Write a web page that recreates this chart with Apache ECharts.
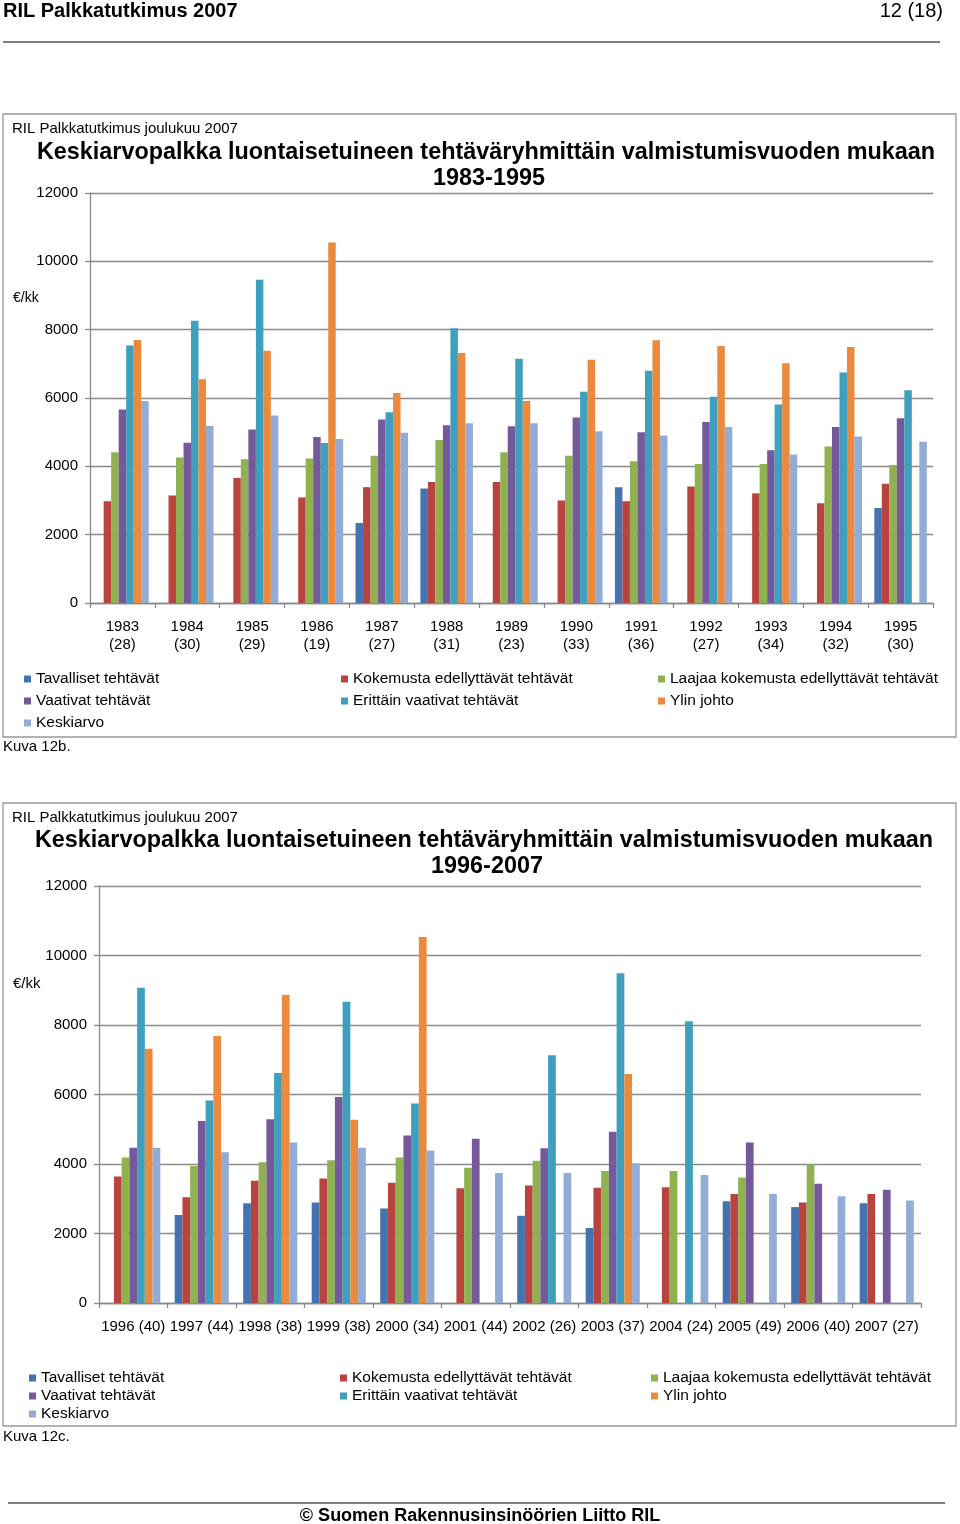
<!DOCTYPE html>
<html><head><meta charset="utf-8">
<script src="https://cdn.jsdelivr.net/npm/echarts@6/dist/echarts.min.js"></script>
<style>html,body{margin:0;padding:0;background:#fff}#c{width:960px;height:1524px}</style>
</head><body><div id="c"></div>
<script>
const seriesNames = ['Tavalliset tehtävät','Kokemusta edellyttävät tehtävät','Laajaa kokemusta edellyttävät tehtävät','Vaativat tehtävät','Erittäin vaativat tehtävät','Ylin johto','Keskiarvo'];
const colors = ['#4473B0','#B9443F','#8FB14F','#75599A','#3E9FBE','#EB8A3D','#93ACD6'];
const yTicks = [0,2000,4000,6000,8000,10000,12000];

// Kuva 12b: 1983-1995
const years1 = ['1983','1984','1985','1986','1987','1988','1989','1990','1991','1992','1993','1994','1995'];
const counts1 = [28,30,29,19,27,31,23,33,36,27,34,32,30];
const tavalliset1 = [null,null,null,null,2340,3350,null,null,3390,null,null,null,2780];
const kokemusta1  = [2980,3150,3660,3090,3390,3540,3540,3000,2980,3410,3210,2920,3490];
const laajaa1     = [4410,4260,4210,4230,4310,4770,4410,4310,4150,4070,4070,4580,4040];
const vaativat1   = [5660,4690,5080,4860,5370,5200,5170,5430,5000,5300,4470,5150,5410];
const erittain1   = [7540,8260,9460,4680,5580,8040,7150,6180,6800,6040,5810,6750,6230];
const ylin1       = [7700,6550,7380,10550,6150,7320,5910,7120,7690,7520,7020,7490,null];
const keskiarvo1  = [5910,5180,5490,4800,4980,5260,5260,5030,4900,5150,4350,4870,4720];

// Kuva 12c: 1996-2007
const years2 = ['1996','1997','1998','1999','2000','2001','2002','2003','2004','2005','2006','2007'];
const counts2 = [40,44,38,38,34,44,26,37,24,49,40,27];
const tavalliset2 = [null,2530,2870,2890,2720,null,2510,2160,null,2930,2760,2870];
const kokemusta2  = [3640,3040,3520,3580,3460,3300,3380,3320,3330,3140,2890,3140];
const laajaa2     = [4190,3940,4050,4110,4190,3890,4090,3800,3800,3610,3990,null];
const vaativat2   = [4470,5240,5290,5930,4820,4730,4450,4930,null,4620,3430,3260];
const erittain2   = [9070,5830,6620,8670,5740,null,7130,9490,8110,null,null,null];
const ylin2       = [7320,7680,8870,5270,10530,null,null,6590,null,null,null,null];
const keskiarvo2  = [4470,4340,4620,4470,4390,3740,3740,4020,3680,3140,3070,2950];

const data1 = [tavalliset1,kokemusta1,laajaa1,vaativat1,erittain1,ylin1,keskiarvo1];
const data2 = [tavalliset2,kokemusta2,laajaa2,vaativat2,erittain2,ylin2,keskiarvo2];
const cats1 = years1.map((y,i)=>y+'\n('+counts1[i]+')');
const cats2 = years2.map((y,i)=>y+' ('+counts2[i]+')');

const FF = '"Liberation Sans", Arial, Helvetica, sans-serif';
const GRID = '#8a8a8a';

function yAxis(gi){
  return {type:'value', gridIndex:gi, min:yTicks[0], max:yTicks[yTicks.length-1], interval:2000,
    axisLine:{show:true, lineStyle:{color:GRID, width:1.3}},
    axisTick:{show:true, length:5, lineStyle:{color:GRID, width:1.3}},
    splitLine:{show:true, lineStyle:{color:GRID, width:1.3}},
    axisLabel:{color:'#000', fontSize:15, fontFamily:FF, margin:12, formatter:(v)=>String(v)}};
}
function xAxis(gi, cats, margin){
  return {type:'category', gridIndex:gi, data:cats,
    axisLine:{show:true, lineStyle:{color:GRID, width:1.3}},
    axisTick:{show:true, length:5, interval:0, lineStyle:{color:GRID, width:1.3}},
    axisLabel:{color:'#000', fontSize:15, fontFamily:FF, interval:0, lineHeight:18, margin:margin}};
}
const series = [];
[data1,data2].forEach((dd,gi)=>{
  dd.forEach((arr,si)=>{
    series.push({type:'bar', name:seriesNames[si], xAxisIndex:gi, yAxisIndex:gi, data:arr,
      itemStyle:{color:colors[si]}, barGap:'0%', barCategoryGap: gi===0?'19%':'21%',
      animation:false});
  });
});
function legend(names, left, top, gap){
  return {data:names, orient:'vertical', left:left, top:top, itemWidth:7, itemHeight:7, itemGap:gap,
    icon:'rect', selectedMode:false,
    textStyle:{color:'#000', fontSize:15.5, fontFamily:FF, lineHeight:15}};
}
const N = seriesNames;
function txt(t,x,y,size,opts){
  return {type:'text', silent:true, style:Object.assign({text:t, x:x, y:y, fill:'#000', fontSize:size,
    fontFamily:FF, textAlign:'left', textVerticalAlign:'middle', verticalAlign:'middle'}, opts||{})};
}
const graphic = [
  txt('RIL Palkkatutkimus 2007', 3, 11, 20, {fontWeight:'bold'}),
  txt('12 (18)', 943, 11, 20, {textAlign:'right'}),
  {type:'line', silent:true, shape:{x1:3,y1:42,x2:940,y2:42}, style:{stroke:'#555', lineWidth:1.5}},
  {type:'rect', silent:true, shape:{x:3,y:114,width:953,height:623}, style:{fill:'none', stroke:'#999', lineWidth:1.3}},
  txt('RIL Palkkatutkimus joulukuu 2007', 12, 129, 15),
  txt('Keskiarvopalkka luontaisetuineen tehtäväryhmittäin valmistumisvuoden mukaan', 486, 153, 23.4, {fontWeight:'bold', textAlign:'center'}),
  txt('1983-1995', 489, 179, 23.4, {fontWeight:'bold', textAlign:'center'}),
  txt('€/kk', 13, 298, 14),
  txt('Kuva 12b.', 3, 747, 15),
  {type:'rect', silent:true, shape:{x:3,y:803,width:953,height:623}, style:{fill:'none', stroke:'#999', lineWidth:1.3}},
  txt('RIL Palkkatutkimus joulukuu 2007', 12, 818, 15),
  txt('Keskiarvopalkka luontaisetuineen tehtäväryhmittäin valmistumisvuoden mukaan', 484, 841, 23.4, {fontWeight:'bold', textAlign:'center'}),
  txt('1996-2007', 487, 867, 23.4, {fontWeight:'bold', textAlign:'center'}),
  txt('€/kk', 13, 984, 15),
  txt('Kuva 12c.', 3, 1437, 15),
  {type:'line', silent:true, shape:{x1:8,y1:1503,x2:945,y2:1503}, style:{stroke:'#555', lineWidth:1.5}},
  txt('© Suomen Rakennusinsinöörien Liitto RIL', 480, 1516, 18, {fontWeight:'bold', textAlign:'center'})
];

const chart = echarts.init(document.getElementById('c'), null, {renderer:'canvas'});
chart.setOption({
  animation:false,
  backgroundColor:'#fff',
  color:colors,
  grid:[{left:90, top:193, width:843, height:410},{left:99, top:886, width:822, height:417}],
  xAxis:[xAxis(0,cats1,15), xAxis(1,cats2,15)],
  yAxis:[yAxis(0), yAxis(1)],
  legend:[
    legend([N[0],N[3],N[6]], 19, 666, 6),
    legend([N[1],N[4]], 336, 666, 6),
    legend([N[2],N[5]], 653, 666, 6),
    legend([N[0],N[3],N[6]], 24, 1365, 2),
    legend([N[1],N[4]], 335, 1365, 2),
    legend([N[2],N[5]], 646, 1365, 2)
  ],
  graphic:graphic,
  series:series
});
</script></body></html>
